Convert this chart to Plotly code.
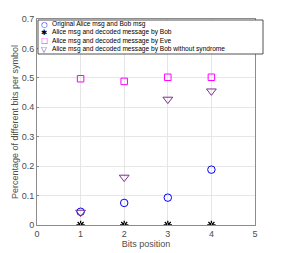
import plotly.graph_objects as go

positions = [1, 2, 3, 4]
orig_alice_bob = [0.045, 0.075, 0.093, 0.188]
decoded_bob = [0.0, 0.0, 0.0, 0.0]
decoded_eve = [0.497, 0.488, 0.502, 0.502]
bob_no_syndrome = [0.043, 0.162, 0.427, 0.455]

series_names = ["Original Alice msg and Bob msg",
                "Alice msg and decoded message by Bob",
                "Alice msg and decoded message by Eve",
                "Alice msg and decoded message by Bob without syndrome"]
series_colors = ["#0000FF", "#000000", "#FF00FF", "#7E2F8E"]
legend_glyphs = ["○", "✱", "□", "▽"]

x_ticks = [0, 1, 2, 3, 4, 5]
y_ticks = [0, 0.1, 0.2, 0.3, 0.4, 0.5, 0.6, 0.7]

W, H = 282, 253
ML, MR, MT, MB = 37, 27, 19, 28
PW, PH = W - ML - MR, H - MT - MB

fig = go.Figure()
fig.add_trace(go.Scatter(x=positions, y=orig_alice_bob, mode="markers", name=series_names[0],
    marker=dict(symbol="circle-open", size=7.5, color=series_colors[0], line=dict(width=1))))
fig.add_trace(go.Scatter(x=positions, y=decoded_bob, mode="markers", name=series_names[1],
    marker=dict(symbol="asterisk-open", size=7, color=series_colors[1], line=dict(width=1.3))))
fig.add_trace(go.Scatter(x=positions, y=decoded_eve, mode="markers", name=series_names[2],
    marker=dict(symbol="square-open", size=6.5, color=series_colors[2], line=dict(width=1))))
fig.add_trace(go.Scatter(x=positions, y=bob_no_syndrome, mode="markers", name=series_names[3],
    marker=dict(symbol="triangle-down-open", size=8.5, color=series_colors[3], line=dict(width=1))))

axis_common = dict(showgrid=True, gridcolor="#E6E6E6", gridwidth=1, zeroline=False,
                   showline=True, linecolor="#8C8C8C", linewidth=1, mirror=True,
                   ticks="inside", ticklen=2, tickcolor="#8C8C8C", automargin=False,
                   tickfont=dict(family="Liberation Sans, Arial", size=9, color="#4D4D4D"))

def px_x(p):
    return (p - ML) / PW

def px_y(p):
    return 1 - (p - MT) / PH

box_left, box_right, box_top, box_bottom = 38, 263, 20, 54
shapes = [dict(type="rect", xref="paper", yref="paper",
               x0=px_x(box_left), x1=px_x(box_right), y0=px_y(box_bottom), y1=px_y(box_top),
               line=dict(color="#262626", width=0.8), fillcolor="white", layer="above")]
annotations = []
row_y = [24, 32.4, 40.8, 49.2]
for i in range(4):
    annotations.append(dict(xref="paper", yref="paper", x=px_x(44), y=px_y(row_y[i]),
                            text=legend_glyphs[i], showarrow=False, xanchor="center", yanchor="middle",
                            font=dict(family="DejaVu Sans", size=7.5, color=series_colors[i])))
    annotations.append(dict(xref="paper", yref="paper", x=px_x(50), y=px_y(row_y[i]),
                            text=series_names[i], showarrow=False, xanchor="left", yanchor="middle",
                            font=dict(family="Liberation Sans, Arial", size=6.6, color="#000000")))

fig.update_layout(
    width=W, height=H,
    margin=dict(l=ML, r=MR, t=MT, b=MB),
    paper_bgcolor="white", plot_bgcolor="white",
    showlegend=False,
    shapes=shapes, annotations=annotations,
    xaxis=dict(range=[0, 5], tickvals=x_ticks, ticktext=[str(v) for v in x_ticks],
               title=dict(text="Bits position", standoff=1,
                          font=dict(family="Liberation Sans, Arial", size=9, color="#4D4D4D")),
               **axis_common),
    yaxis=dict(range=[0, 0.7], tickvals=y_ticks, ticktext=[("0" if v == 0 else str(v)) for v in y_ticks],
               title=dict(text="Percentage of different bits per symbol", standoff=1,
                          font=dict(family="Liberation Sans, Arial", size=9, color="#4D4D4D")),
               **axis_common),
)

fig.write_html("out.html", config={"displayModeBar": False},
               post_script="document.body.style.margin='0';document.body.style.padding='0';")
